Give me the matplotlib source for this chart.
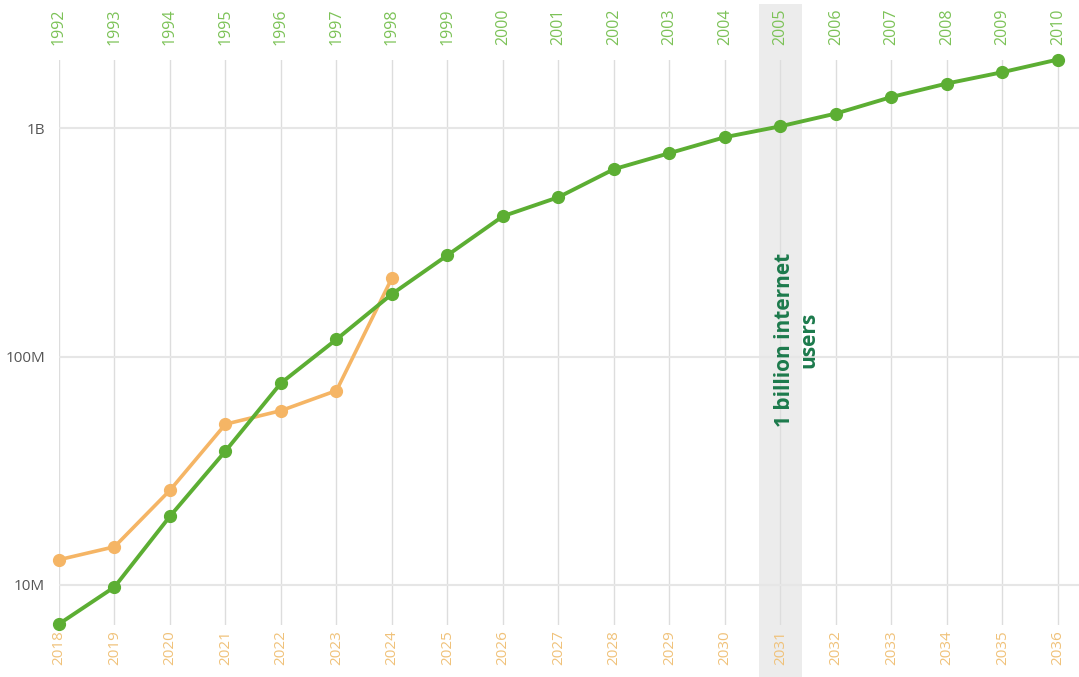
import numpy as np
import matplotlib.pyplot as plt
from matplotlib.ticker import FixedLocator, NullLocator

# internet users, 1992-2010 (top axis, green)
internet_years = list(range(1992, 2011))
internet_users = [6.75e6, 9.8e6, 20e6, 38.6e6, 76.6e6, 119e6, 188e6, 278e6, 412e6,
                  499e6, 662e6, 778e6, 914e6, 1.02e9, 1.16e9, 1.37e9, 1.57e9, 1.76e9, 2.0e9]

# second series, 2018-2024 (bottom axis, orange)
ai_years = list(range(2018, 2037))
ai_users = [12.9e6, 14.7e6, 26e6, 50.6e6, 58e6, 71e6, 221e6]

ytick_vals = [1e7, 1e8, 1e9]
ytick_labels = ["10M", "100M", "1B"]

green = "#5cae33"
orange = "#f5b565"
plt.rcParams['font.family'] = ['Open Sans', 'DejaVu Sans']

fig = plt.figure(figsize=(10.79, 6.77), dpi=100)
ax = fig.add_axes([59 / 1079, 52 / 677, 1020 / 1079, 565 / 677])

idx = np.arange(len(internet_years))

# 1 billion marker band
band = internet_years.index(2005)
ax.axvspan(band - 0.38, band + 0.38, ymin=-0.092, ymax=1.10, color="#ececec",
           clip_on=False, zorder=0, lw=0)

for i in idx:
    ax.axvline(i, color="#dddddd", lw=1, zorder=1)
for v in ytick_vals:
    ax.axhline(v, color="#e6e6e6", lw=1.5, zorder=1)

ax.plot(idx, internet_users, color=green, lw=2.8, marker="o", ms=8.5,
        clip_on=False, zorder=4)
ax.plot(idx[:len(ai_users)], ai_users, color=orange, lw=2.6, marker="o", ms=8.5,
        clip_on=False, zorder=3)

ax.set_yscale("log")
ax.set_xlim(0, 18.38)
ax.set_ylim(6.68e6, 1.99e9)

ax.yaxis.set_major_locator(FixedLocator(ytick_vals))
ax.yaxis.set_minor_locator(NullLocator())
ax.set_yticklabels(ytick_labels)
ax.tick_params(axis="y", length=0, pad=10, labelsize=11, labelcolor="#555555")

ax.set_xticks(idx)
ax.set_xticklabels([str(y) for y in ai_years], rotation=90, color="#f0c27a", fontsize=11)
ax.tick_params(axis="x", length=0, pad=4)

top = ax.secondary_xaxis("top")
top.set_xticks(idx)
top.set_xticklabels([str(y) for y in internet_years], rotation=90, color="#7cc257", fontsize=11.5)
top.tick_params(length=0, pad=11)
top.spines["top"].set_visible(False)

for s in ax.spines.values():
    s.set_visible(False)

ax.text(band + 0.3, 1.18e8, "1 billion internet\nusers", rotation=90, ha="center", va="center",
        multialignment="center", color="#1c7a4c", fontsize=15, fontweight="bold", zorder=5)

fig.savefig("out.png", dpi=100)
